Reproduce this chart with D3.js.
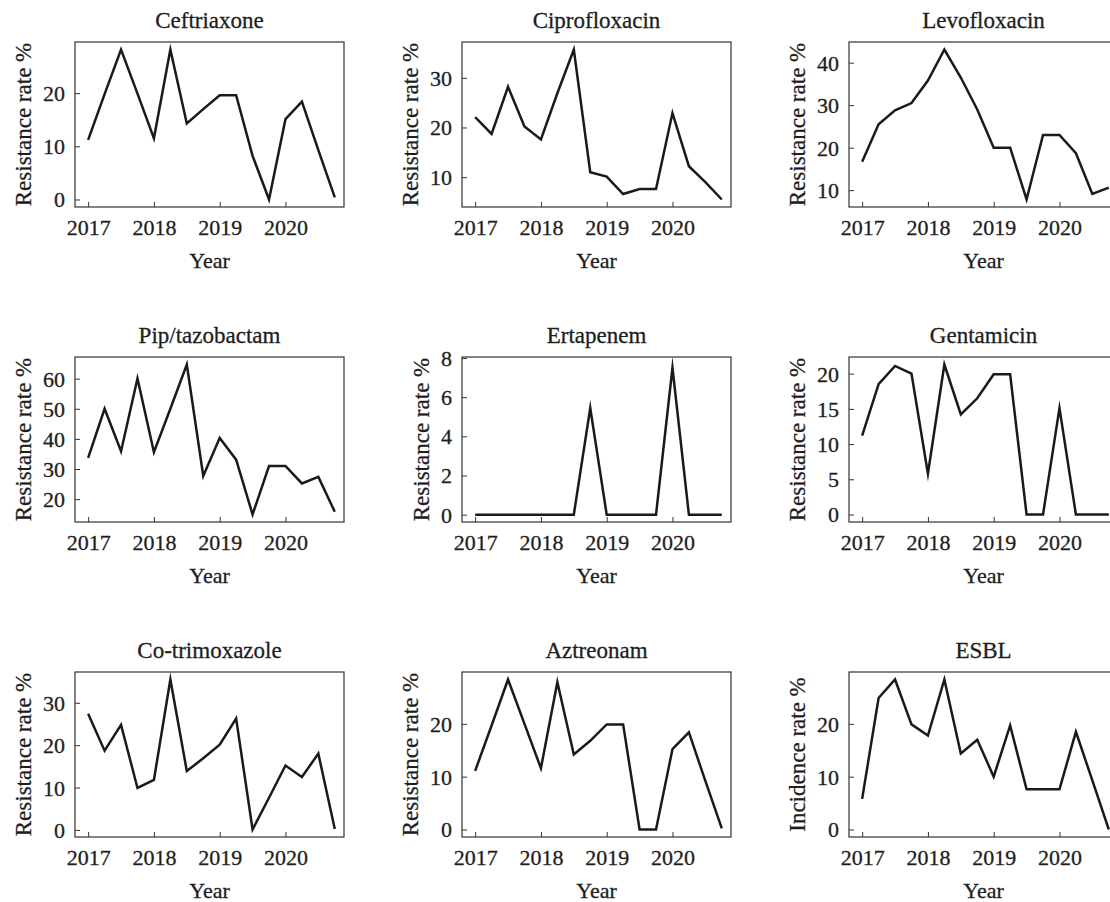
<!DOCTYPE html>
<html>
<head>
<meta charset="utf-8">
<script src="https://cdn.jsdelivr.net/npm/d3@7"></script>
<style>
  body { margin: 0; background: #fff; }
  svg text { font-family: "Liberation Serif", "Times New Roman", serif; fill: #1e1e1e; }
</style>
</head>
<body>
<div class="chartdiv"></div>
<script>
// quarterly time points
const quarters = [2017, 2017.25, 2017.5, 2017.75, 2018, 2018.25, 2018.5, 2018.75,
                  2019, 2019.25, 2019.5, 2019.75, 2020, 2020.25, 2020.5, 2020.75]
const yearTicks = [2017, 2018, 2019, 2020]

const titles = ['Ceftriaxone', 'Ciprofloxacin', 'Levofloxacin',
                'Pip/tazobactam', 'Ertapenem', 'Gentamicin',
                'Co-trimoxazole', 'Aztreonam', 'ESBL']
const yLabels = ['Resistance rate %', 'Resistance rate %', 'Resistance rate %',
                 'Resistance rate %', 'Resistance rate %', 'Resistance rate %',
                 'Resistance rate %', 'Resistance rate %', 'Incidence rate %']

const ceftriaxone = [11.2, 19.8, 28.2, 19.9, 11.5, 28.2, 14.3, 17.0, 19.6, 19.6, 8.2, 0, 15.1, 18.4, 9.3, 0.4]
const ciprofloxacin = [22.1, 18.7, 28.2, 20.2, 17.6, 26.9, 35.7, 11.0, 10.1, 6.6, 7.6, 7.6, 22.9, 12.2, 9.0, 5.5]
const levofloxacin = [16.7, 25.5, 28.8, 30.5, 35.8, 43.1, 36.5, 29.0, 20.0, 20.0, 7.8, 23.0, 23.0, 18.7, 9.1, 10.6]
const piptazobactam = [33.7, 50.0, 35.9, 60.1, 35.6, 50.0, 64.7, 27.7, 40.3, 33.1, 14.9, 31.0, 31.0, 25.2, 27.4, 15.8]
const ertapenem = [0, 0, 0, 0, 0, 0, 0, 5.45, 0, 0, 0, 0, 7.5, 0, 0, 0]
const gentamicin = [11.2, 18.5, 21.1, 20.0, 5.8, 21.3, 14.2, 16.5, 19.9, 19.9, 0, 0, 15.1, 0, 0, 0]
const cotrimoxazole = [27.4, 18.7, 24.8, 9.9, 11.8, 35.5, 13.9, 16.9, 20.1, 26.3, 0.1, 7.6, 15.2, 12.5, 18.0, 0.2]
const aztreonam = [11.1, 19.7, 28.4, 20.0, 11.6, 27.9, 14.2, 16.8, 19.9, 19.9, 0, 0, 15.2, 18.4, 9.2, 0.2]
const esbl = [5.8, 24.9, 28.4, 19.9, 17.8, 28.4, 14.4, 17.0, 10.0, 19.7, 7.6, 7.6, 7.6, 18.5, 9.3, 0]

const yTicks = [
    [0, 10, 20], [10, 20, 30], [10, 20, 30, 40],
    [20, 30, 40, 50, 60], [0, 2, 4, 6, 8], [0, 5, 10, 15, 20],
    [0, 10, 20, 30], [0, 10, 20], [0, 10, 20]
]

const series = [ceftriaxone, ciprofloxacin, levofloxacin,
                piptazobactam, ertapenem, gentamicin,
                cotrimoxazole, aztreonam, esbl]

// layout
let W = 1110, H = 902
let colLeft = [75, 462, 849],
    rowTop = [42, 357, 672],
    pw = 269,
    ph = 165
let fontSize = 22

let svg = d3.select('.chartdiv')
    .append('svg')
    .attr('width', W)
    .attr('height', H)

series.forEach((vals, i) => {
    let col = i % 3,
        row = Math.floor(i / 3)
    let x0 = colLeft[col],
        y0 = rowTop[row]

    let data = quarters.map((q, j) => ({ x: q, y: vals[j] }))

    // matplotlib-style 5% margins on y, stretched a bit if a tick sits above the data
    let ymin = d3.min(vals), ymax = d3.max(vals)
    let pad = (ymax - ymin) * 0.05
    let top = Math.max(ymax + pad, d3.max(yTicks[i]) + (ymax - ymin) * 0.007)

    let xScale = d3.scaleLinear()
        .domain([2016.8, 2020.89])
        .range([0, pw])
    let yScale = d3.scaleLinear()
        .domain([ymin - pad, top])
        .range([ph, 0])

    let g = svg.append('g')
        .attr('class', 'panel')
        .attr('transform', `translate(${x0},${y0})`)

    // inward ticks
    let xAxis = d3.axisBottom(xScale)
        .tickValues(yearTicks)
        .tickFormat(d3.format('d'))
        .tickSizeInner(-5)
        .tickSizeOuter(0)
        .tickPadding(12)
    let yAxis = d3.axisLeft(yScale)
        .tickValues(yTicks[i])
        .tickFormat(d3.format('d'))
        .tickSizeInner(-5)
        .tickSizeOuter(0)
        .tickPadding(10)

    let gx = g.append('g')
        .attr('transform', `translate(0,${ph})`)
        .call(xAxis)
    let gy = g.append('g')
        .call(yAxis)

    ;[gx, gy].forEach(ax => {
        ax.select('.domain').remove()
        ax.selectAll('line').attr('stroke', '#333').attr('stroke-width', 1)
        ax.selectAll('text')
            .style('font-size', fontSize + 'px')
            .style('font-family', '"Liberation Serif", serif')
            .attr('fill', '#1e1e1e')
            .attr('stroke', '#1e1e1e')
            .attr('stroke-width', 0.3)
    })
    gx.selectAll('text').attr('dy', null).attr('y', 28)
    gy.selectAll('text').attr('x', -10).attr('dy', '0.34em')

    // frame
    g.append('rect')
        .attr('x', 0).attr('y', 0)
        .attr('width', pw).attr('height', ph)
        .attr('fill', 'none')
        .attr('stroke', '#333')
        .attr('stroke-width', 1.2)

    let line = d3.line()
        .x(d => xScale(d.x))
        .y(d => yScale(d.y))

    g.append('path')
        .datum(data)
        .attr('d', line)
        .attr('fill', 'none')
        .attr('stroke', '#1a1a1a')
        .attr('stroke-width', 2.5)
        .attr('stroke-linejoin', 'miter')
        .attr('stroke-miterlimit', 10)

    // title
    g.append('text')
        .attr('x', pw / 2)
        .attr('y', -14)
        .attr('text-anchor', 'middle')
        .attr('stroke', '#1e1e1e')
        .attr('stroke-width', 0.3)
        .style('font-size', '23px')
        .text(titles[i])

    // x label
    g.append('text')
        .attr('x', pw / 2)
        .attr('y', ph + 61)
        .attr('text-anchor', 'middle')
        .attr('stroke', '#1e1e1e')
        .attr('stroke-width', 0.3)
        .style('font-size', fontSize + 'px')
        .text('Year')

    // y label, placed left of the widest tick label
    let maxw = d3.max(gy.selectAll('text').nodes(), n => n.getComputedTextLength())
    g.append('text')
        .attr('transform', `translate(${-10 - maxw - 12},${ph / 2}) rotate(-90)`)
        .attr('text-anchor', 'middle')
        .attr('stroke', '#1e1e1e')
        .attr('stroke-width', 0.3)
        .style('font-size', '23px')
        .text(yLabels[i])
})
</script>
</body>
</html>
